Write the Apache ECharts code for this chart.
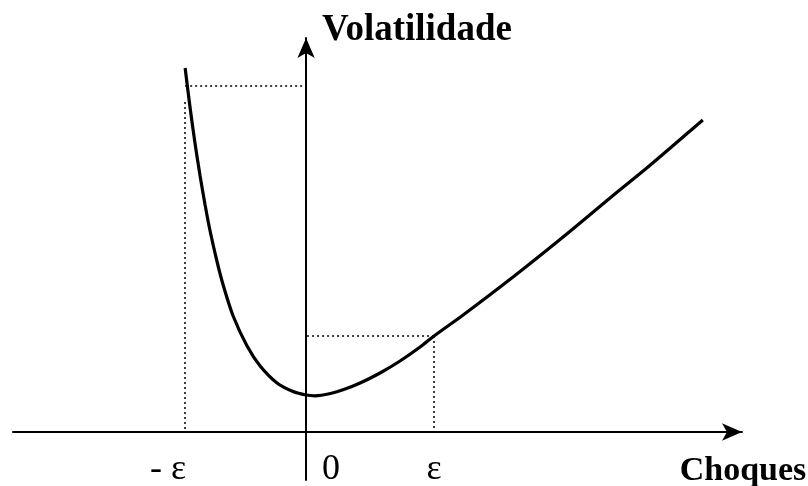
<!DOCTYPE html>
<html>
<head>
<meta charset="utf-8">
<script src="https://cdn.jsdelivr.net/npm/echarts@6/dist/echarts.min.js"></script>
<style>
  html, body { margin: 0; padding: 0; background: #fff; }
  #chart { width: 808px; height: 486px; }
</style>
</head>
<body>
<div id="chart"></div>
<script>
// choques (eixo x, em unidades de epsilon) e volatilidade
const choques = [-0.945, -0.906, -0.867, -0.828, -0.789, -0.75, -0.695, -0.648, -0.57, -0.461,
  -0.359, -0.227, -0.102, 0, 0.07, 0.19, 0.305, 0.422, 0.578, 0.734, 0.891, 1.0, 1.227,
  1.617, 2.008, 2.375, 2.69, 3.0, 3.1];
const volatilidade = [3.64, 3.24, 2.88, 2.56, 2.27, 2.01, 1.70, 1.47, 1.16, 0.86,
  0.66, 0.49, 0.405, 0.37, 0.362, 0.385, 0.43, 0.49, 0.59, 0.71, 0.85, 0.96, 1.17,
  1.55, 1.95, 2.34, 2.67, 3.01, 3.12];
// linhas pontilhadas: choque -e e +e e a volatilidade correspondente
const guiaX = [-0.945, 1.0];
const guiaY = [3.46, 0.96];
const guiaTopo = [3.30, 0.96]; // onde comeca o tracejado vertical
const tickValues = [-0.945, 0, 1.0];
const tickLabels = ['- ε', '0', 'ε'];

const chart = echarts.init(document.getElementById('chart'));
const serif = '"Liberation Serif", "Times New Roman", serif';

let guias = [];
guiaX.forEach((gx, i) => {
  guias.push([{ coord: [gx, guiaY[i]] }, { coord: [0, guiaY[i]] }]);
  guias.push([{ coord: [gx, guiaTopo[i]] }, { coord: [gx, 0] }]);
});

const option = {
  animation: false,
  backgroundColor: '#fff',
  grid: { left: 13, right: 66, top: 38, bottom: 6, containLabel: false, outerBoundsMode: 'none' },
  xAxis: {
    type: 'value',
    min: -2.29,
    max: 3.406,
    name: 'Choques',
    nameLocation: 'end',
    nameGap: 1,
    nameTextStyle: {
      fontFamily: serif, fontWeight: 'bold', fontSize: 34, color: '#000',
      align: 'center', verticalAlign: 'top', padding: [22, 0, 0, 0]
    },
    axisLine: {
      onZero: true,
      symbol: ['none', 'arrow'],
      symbolSize: [13, 20],
      lineStyle: { color: '#000', width: 2 }
    },
    axisTick: { show: false },
    splitLine: { show: false },
    axisLabel: { show: false }
  },
  yAxis: {
    type: 'value',
    min: -0.48,
    max: 3.94,
    name: 'Volatilidade',
    nameLocation: 'end',
    nameGap: -11,
    nameTextStyle: {
      fontFamily: serif, fontWeight: 'bold', fontSize: 37, color: '#000',
      align: 'left', verticalAlign: 'bottom', padding: [0, 0, 0, 16]
    },
    axisLine: {
      onZero: true,
      symbol: ['none', 'arrow'],
      symbolSize: [13, 20],
      lineStyle: { color: '#000', width: 2 }
    },
    axisTick: { show: false },
    axisLabel: { show: false },
    splitLine: { show: false }
  },
  series: [{
    type: 'line',
    data: choques.map((x, i) => [x, volatilidade[i]]),
    smooth: 0.3,
    showSymbol: false,
    clip: false,
    lineStyle: { color: '#000', width: 3.2 },
    markLine: {
      silent: true,
      symbol: ['none', 'none'],
      label: { show: false },
      lineStyle: { color: '#000', width: 1.5, type: [2, 3] },
      data: guias
    }
  }, {
    // rotulos do eixo x: -e, 0, e
    type: 'scatter',
    silent: true,
    symbolSize: 0,
    itemStyle: { opacity: 1 },
    data: tickValues.map(v => [v, 0]),
    label: {
      show: true,
      position: 'bottom',
      distance: 20,
      fontFamily: serif,
      fontSize: 36,
      color: '#000',
      formatter: function (p) {
        const key = ['a', 'b', 'c'][p.dataIndex];
        return '{' + key + '|' + tickLabels[p.dataIndex] + '}';
      },
      rich: {
        a: { fontFamily: serif, fontSize: 36, color: '#000', padding: [0, 34, 0, 0] },
        b: { fontFamily: serif, fontSize: 36, color: '#000', padding: [0, 0, 0, 50] },
        c: { fontFamily: serif, fontSize: 36, color: '#000' }
      }
    }
  }]
};
chart.setOption(option);
</script>
</body>
</html>
